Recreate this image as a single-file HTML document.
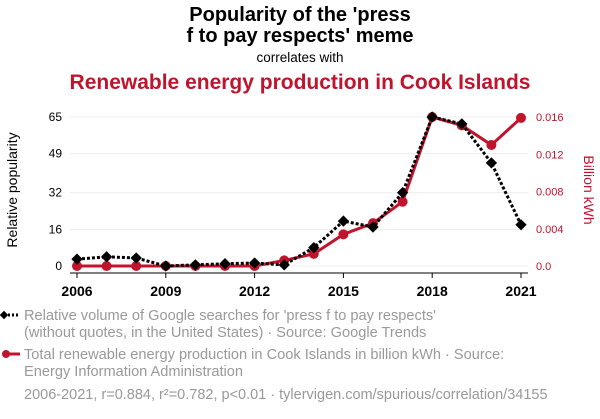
<!DOCTYPE html>
<html><head><meta charset="utf-8"><style>
body{margin:0;background:#fff;width:600px;height:414px;overflow:hidden;font-family:"Liberation Sans",sans-serif}
</style></head><body>
<svg width="600" height="414" font-family="Liberation Sans, sans-serif">
<text x="300" y="21" text-anchor="middle" font-size="20" font-weight="bold">Popularity of the 'press</text>
<text x="300" y="42" text-anchor="middle" font-size="20" font-weight="bold">f to pay respects' meme</text>
<text x="300" y="62" text-anchor="middle" font-size="13.5">correlates with</text>
<text x="300" y="89" text-anchor="middle" font-size="21" font-weight="bold" fill="#c0142d">Renewable energy production in Cook Islands</text>
<g id="grid"></g><g id="axes"></g><g id="marks"></g>
<text transform="translate(17,190) rotate(-90)" text-anchor="middle" font-size="14">Relative popularity</text>
<text transform="translate(584,190) rotate(90)" text-anchor="middle" font-size="14" fill="#c0142d">Billion kWh</text>
<g>
<line x1="4" y1="315" x2="20" y2="315" stroke="#000" stroke-width="3" stroke-dasharray="2,2"/>
<rect x="1" y="312" width="6" height="6" transform="rotate(45 4 315)" fill="#000"/>
<text x="24" y="320" font-size="14.6" fill="#999">Relative volume of Google searches for 'press f to pay respects'</text>
<text x="24" y="337" font-size="14.6" fill="#999">(without quotes, in the United States) · Source: Google Trends</text>
</g>
<g>
<line x1="4" y1="354" x2="20" y2="354" stroke="#c0142d" stroke-width="3"/>
<circle cx="6" cy="354" r="4" fill="#c0142d"/>
<text x="24" y="359" font-size="14.6" fill="#999">Total renewable energy production in Cook Islands in billion kWh · Source:</text>
<text x="24" y="376" font-size="14.6" fill="#999">Energy Information Administration</text>
</g>
<text x="24" y="399" font-size="14.5" fill="#999">2006-2021, r=0.884, r²=0.782, p&lt;0.01 · tylervigen.com/spurious/correlation/34155</text>
</svg>
<script>
const years=[2006,2007,2008,2009,2010,2011,2012,2013,2014,2015,2016,2017,2018,2019,2020,2021];
const popularity=[3,4,3.5,0,0.5,1,1.3,0.5,8,19.6,17,32,65,62,45,18];
const energy=[0,0,0,0,0,0,0,0.0006,0.0013,0.0034,0.0046,0.0069,0.016,0.0151,0.013,0.0159];
const leftTicks=[0,16,32,49,65];
const rightTicks=[0,0.004,0.008,0.012,0.016];
const xTicks=[2006,2009,2012,2015,2018,2021];
const NS="http://www.w3.org/2000/svg";
const X=y=>77+(y-2006)/(2021-2006)*444;
const YL=v=>266-v/65*149;
const YR=v=>266-v/0.016*149;
function mk(tag,attrs,parent,text){const e=document.createElementNS(NS,tag);for(const k in attrs)e.setAttribute(k,attrs[k]);if(text!=null)e.textContent=text;document.getElementById(parent).appendChild(e);return e;}
leftTicks.forEach(t=>{
 const g=mk('line',{x1:70,x2:528,y1:YL(t),y2:YL(t),stroke:'#eee','stroke-width':1},'grid');
 
 
 const l=mk('text',{x:62,y:YL(t)+4,'text-anchor':'end','font-size':12},'axes',t);
 
 
});
rightTicks.forEach(t=>{
 const l=mk('text',{x:536,y:YR(t)+4,'font-size':11,fill:'#c0142d'},'axes',t===0?'0.0':t.toFixed(3));
 
 
});
const ax=mk('line',{x1:70,x2:528,y1:273,y2:273,stroke:'#000','stroke-width':1},'axes');


xTicks.forEach(t=>{
 const tk=mk('line',{x1:X(t),x2:X(t),y1:273,y2:278,stroke:'#000'},'axes');
 
 
 const l=mk('text',{x:X(t),y:296,'text-anchor':'middle','font-size':14,'font-weight':'bold'},'axes',t);
 
 
});
const rp=mk('polyline',{points:years.map((y,i)=>X(y)+','+YR(energy[i])).join(' '),fill:'none',stroke:'#c0142d','stroke-width':3},'marks');


years.forEach((y,i)=>{const c=mk('circle',{cx:X(y),cy:YR(energy[i]),r:5,fill:'#c0142d'},'marks');
 
 });
const bp=mk('polyline',{points:years.map((y,i)=>X(y)+','+YL(popularity[i])).join(' '),fill:'none',stroke:'#000','stroke-width':3,'stroke-dasharray':'3,2'},'marks');


years.forEach((y,i)=>{const cx=X(y),cy=YL(popularity[i]);
 const d=mk('rect',{x:cx-4,y:cy-4,width:8,height:8,fill:'#000',transform:`rotate(45 ${cx} ${cy})`},'marks');
 
 });
</script>
</body></html>
